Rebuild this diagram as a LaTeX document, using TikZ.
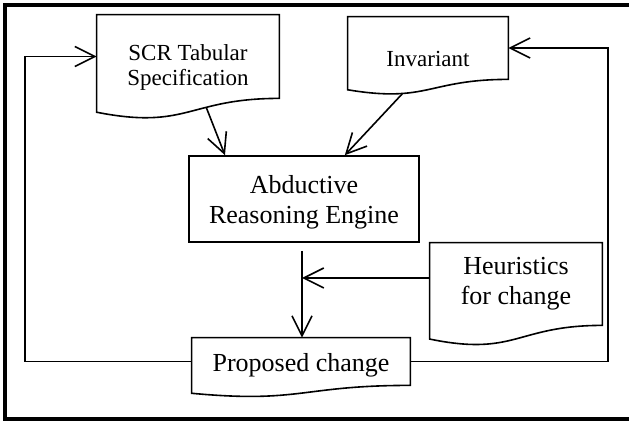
\documentclass[tikz,border=0pt]{standalone}
\usepackage{fontspec}
\setmainfont{Liberation Serif}
\usetikzlibrary{calc,arrows.meta}
\tikzset{
    >={Straight Barb[length=10pt,width=10pt]},
    docbox/.style={
        rectangle,
        draw=none,
        align=center,
        inner sep=1pt,
        font={\fontsize{11.5pt}{12.5pt}\selectfont}
    },
    bigdoc/.style={
        docbox,
        font={\fontsize{13pt}{15pt}\selectfont}
    },
    procbox/.style={
        rectangle,
        draw, line width=0.8pt,
        align=center,
        inner sep=1pt,
        font={\fontsize{13pt}{15pt}\selectfont}
    },
    line/.style={draw, line width=0.8pt},
    flow/.style={line, ->},
}
% document outline round a node, with a named point on its wavy edge
\newcommand{\docwave}[2][0.5]{%
  \draw[line width=0.8pt] (#2.north west) -- (#2.north east) -- (#2.south east)
    .. controls (#2.south) and ($(#2.south)!-0.38!(#2.north)$)
    .. ($(#2.south west)!-0.165!(#2.north west)$) coordinate[pos=#1] (#2-wave)
    -- cycle;}

\begin{document}
\begin{tikzpicture}[x=0.5pt,y=-0.5pt]
\useasboundingbox (0,0) rectangle (629,421);
\draw[line width=2pt] (629,4.7) -- (5.3,4.7) -- (5.3,419) -- (629,419);

\node[docbox, minimum width=91pt, minimum height=41.5pt, text height=31.3pt, text depth=2.5pt] (scr) at (188,56.5) {SCR Tabular\\Specification};
\node[docbox, minimum width=80pt, minimum height=31pt, text height=18.5pt, text depth=0pt] (inv) at (428,48) {Invariant};
\node[procbox, minimum width=115pt, minimum height=43pt, text height=27.8pt, text depth=2.8pt] (abe) at (304,199) {Abductive\\Reasoning Engine};
\node[bigdoc, minimum width=86pt, minimum height=41pt] (heur) at (516,284) {Heuristics\\for change};
\node[bigdoc, minimum width=109pt, minimum height=23.5pt, text height=13.5pt, text depth=3pt] (prop) at (301,361.5) {Proposed change};

\docwave[0.37]{scr}
\docwave[0.7]{inv}
\docwave{heur}
\docwave{prop}

\coordinate (merge) at (302,278);
\coordinate (lft) at (25,0);
\coordinate (rgt) at (608,0);

\draw[flow] (scr-wave) -- (abe.151);
\draw[flow] (inv-wave) -- (abe.47);
\draw[flow, shorten <=4pt] (abe.south -| merge) -- (prop.north -| merge);
\draw[flow] (heur.west |- merge) -- (merge);
\draw[flow] (prop.west) -| (lft |- scr.west) -- (scr.west);
\draw[flow] (prop.east) -| (rgt |- inv.east) -- (inv.east);
\end{tikzpicture}
\end{document}
